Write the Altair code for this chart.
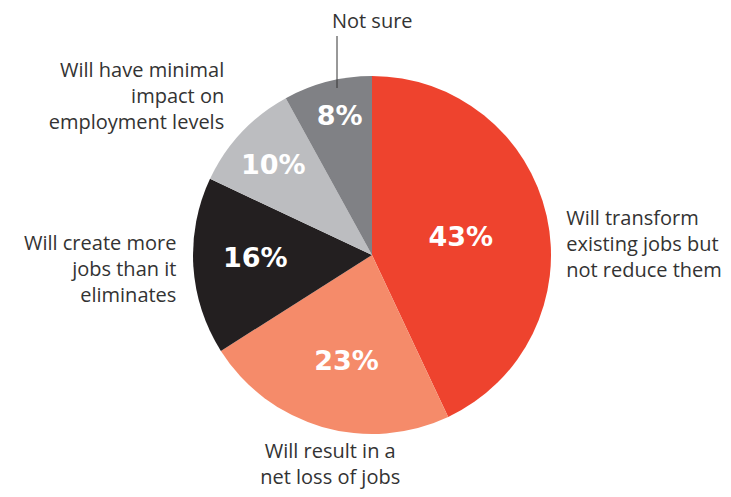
import altair as alt
import pandas as pd

categories = [
    "Will transform existing jobs but not reduce them",
    "Will result in a net loss of jobs",
    "Will create more jobs than it eliminates",
    "Will have minimal impact on employment levels",
    "Not sure",
]
label_lines = [
    "Will transform\nexisting jobs but\nnot reduce them",
    "Will result in a\nnet loss of jobs",
    "Will create more\njobs than it\neliminates",
    "Will have minimal\nimpact on\nemployment levels",
    "Not sure",
]
values = [43, 23, 16, 10, 8]
colors = ["#EE432E", "#F58B6A", "#231F20", "#BCBDC0", "#808185"]

df = pd.DataFrame({
    "category": categories,
    "label": label_lines,
    "value": values,
    "order": list(range(len(categories))),
})
df["pct"] = df["value"].astype(str) + "%"

R = 179
TEXT_FONT = "Open Sans"
PCT_FONT = "DejaVu Sans"
TEXT_COLOR = "#333333"

base = alt.Chart(df)

pie = base.mark_arc(outerRadius=R, stroke=None).encode(
    theta=alt.Theta("value:Q", stack=True),
    color=alt.Color("category:N", scale=alt.Scale(domain=categories, range=colors), legend=None),
    order=alt.Order("order:Q"),
)


def positioned(cat):
    return (
        base.transform_window(cum="sum(value)", sort=[{"field": "order"}])
        .transform_calculate(mid="datum.cum - datum.value / 2")
        .transform_filter(alt.datum.category == cat)
    )


theta_mid = alt.Theta("mid:Q", scale=alt.Scale(domain=[0, 100]), stack=None)

# percentage labels: (radius, dx, dy)
pct_style = {
    categories[0]: (91, 0, 3),
    categories[1]: (109, 5, 2),
    categories[2]: (118, 1, -3),
    categories[3]: (134, -1, 3),
    categories[4]: (142, 3, 0),
}
# outside labels: (align, dx, dy)
lab_style = {
    categories[0]: ("left", -1, 14),
    categories[1]: ("center", 14, 11),
    categories[2]: ("right", 4, -18),
    categories[3]: ("right", -2, -41),
    categories[4]: ("center", 50, -33),
}

layers = [pie]
for cat in categories:
    r, dx, dy = pct_style[cat]
    layers.append(
        positioned(cat).mark_text(
            radius=r, dx=dx, dy=dy, font=PCT_FONT, fontWeight="bold", fontSize=27,
            color="white", align="center", baseline="middle",
        ).encode(theta=theta_mid, text="pct:N")
    )
    al, dx, dy = lab_style[cat]
    layers.append(
        positioned(cat).mark_text(
            radius=200, dx=dx, dy=dy, font=TEXT_FONT, fontSize=20, color=TEXT_COLOR,
            align=al, baseline="alphabetic", lineBreak="\n", lineHeight=26,
        ).encode(theta=theta_mid, text="label:N")
    )

leader = base.transform_filter(alt.datum.category == "Not sure").mark_rule(
    color=TEXT_COLOR, strokeWidth=1
).encode(x=alt.value(315), y=alt.value(14), y2=alt.value(66))
layers.append(leader)

chart = alt.layer(*layers).properties(
    width=700,
    height=466,
    autosize=alt.AutoSizeParams(type="none"),
    padding={"left": 14, "top": 14, "right": 1, "bottom": 1},
    background="white",
).configure_view(stroke=None)

chart.save("out.html", embed_options={"renderer": "svg", "actions": False})
